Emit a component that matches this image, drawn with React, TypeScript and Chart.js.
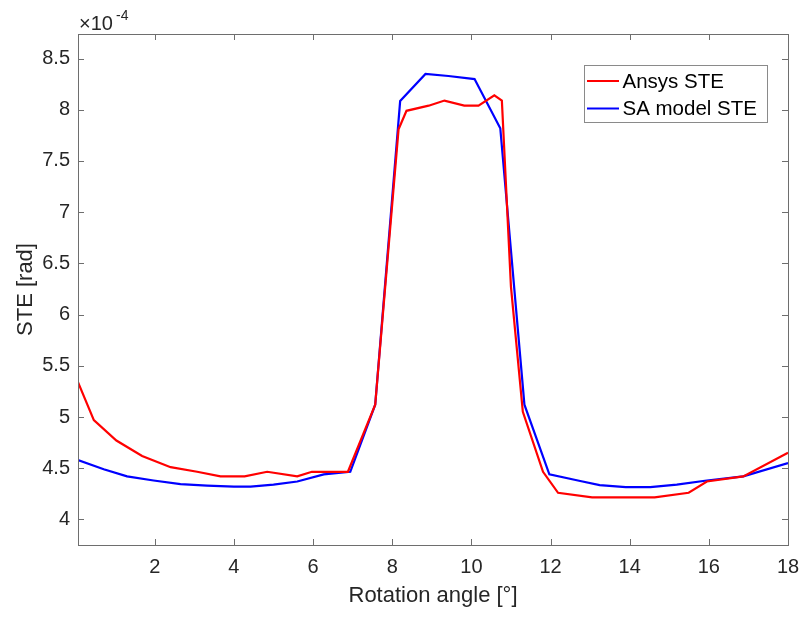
import React, { useEffect, useRef } from "react";
import { Chart, registerables } from "chart.js";

Chart.register(...registerables);

// STE values in units of 1e-4 rad
const ansysAngle = [0.06, 0.46, 1.03, 1.68, 2.4, 3.07, 3.66, 4.27, 4.84, 5.6, 5.97, 6.88, 7.57, 8.16, 8.36, 8.92, 9.32, 9.82, 10.18, 10.58, 10.77, 11.0, 11.3, 11.81, 12.19, 13.05, 14.63, 15.49, 15.95, 16.87, 18.0];
const ansysSTE = [5.34, 4.97, 4.77, 4.62, 4.51, 4.465, 4.42, 4.42, 4.465, 4.42, 4.465, 4.465, 5.12, 7.81, 7.99, 8.04, 8.09, 8.04, 8.04, 8.14, 8.09, 6.27, 5.05, 4.465, 4.26, 4.215, 4.215, 4.26, 4.37, 4.42, 4.65];

const saAngle = [0.06, 0.71, 1.3, 1.97, 2.65, 3.32, 4.0, 4.42, 5.0, 5.6, 6.27, 6.94, 7.57, 8.2, 8.84, 9.42, 10.08, 10.73, 11.34, 11.97, 12.75, 13.24, 13.9, 14.52, 15.19, 15.95, 16.87, 18.0];
const saSTE = [4.58, 4.49, 4.42, 4.38, 4.345, 4.33, 4.32, 4.32, 4.34, 4.37, 4.44, 4.465, 5.12, 8.085, 8.35, 8.33, 8.3, 7.82, 5.12, 4.44, 4.375, 4.335, 4.315, 4.315, 4.34, 4.38, 4.42, 4.55];

const xTicks = [2, 4, 6, 8, 10, 12, 14, 16, 18];
const yTicks = [4, 4.5, 5, 5.5, 6, 6.5, 7, 7.5, 8, 8.5];

const seriesNames = ["Ansys STE", "SA model STE"];
const seriesColors = ["#ff0000", "#0000ff"];

const FONT = "'Liberation Sans', Arial, Helvetica, sans-serif";
const AXIS_COLOR = "#6e6e6e";
const TEXT_COLOR = "#262626";

const decorPlugin = {
  id: "matlabDecor",
  afterDraw(chart: any) {
    const { ctx, chartArea } = chart;
    const { left, right, top, bottom } = chartArea;
    const xs = chart.scales.x;
    const ys = chart.scales.y;
    ctx.save();
    // box
    ctx.strokeStyle = AXIS_COLOR;
    ctx.lineWidth = 1;
    ctx.strokeRect(Math.round(left) + 0.5, Math.round(top) + 0.5, Math.round(right - left), Math.round(bottom - top));
    // ticks (inward, all sides)
    const tl = 6;
    ctx.beginPath();
    xTicks.forEach((v) => {
      const px = Math.round(xs.getPixelForValue(v)) + 0.5;
      ctx.moveTo(px, bottom);
      ctx.lineTo(px, bottom - tl);
      ctx.moveTo(px, top);
      ctx.lineTo(px, top + tl);
    });
    yTicks.forEach((v) => {
      const py = Math.round(ys.getPixelForValue(v)) + 0.5;
      ctx.moveTo(left, py);
      ctx.lineTo(left + tl, py);
      ctx.moveTo(right, py);
      ctx.lineTo(right - tl, py);
    });
    ctx.stroke();

    // exponent label
    ctx.fillStyle = TEXT_COLOR;
    ctx.textAlign = "left";
    ctx.textBaseline = "alphabetic";
    ctx.font = `20px ${FONT}`;
    ctx.fillText("\u00d710", 79, 29.5);
    ctx.font = `14px ${FONT}`;
    ctx.fillText("-4", 116, 19.5);

    // axis titles
    ctx.font = `22px ${FONT}`;
    ctx.textAlign = "center";
    ctx.textBaseline = "middle";
    ctx.fillText("Rotation angle [\u00b0]", (left + right) / 2, 596);
    ctx.save();
    ctx.translate(26, (top + bottom) / 2);
    ctx.rotate(-Math.PI / 2);
    ctx.fillText("STE [rad]", 0, 0);
    ctx.restore();

    // legend
    const lx = 584, ly = 65, lw = 183, lh = 57;
    ctx.fillStyle = "#ffffff";
    ctx.fillRect(lx, ly, lw, lh);
    ctx.strokeStyle = "#8a8a8a";
    ctx.lineWidth = 1;
    ctx.strokeRect(lx + 0.5, ly + 0.5, lw, lh);
    const rows = [81, 108.5];
    ctx.font = `20.5px ${FONT}`;
    ctx.textAlign = "left";
    ctx.textBaseline = "middle";
    seriesNames.forEach((name, i) => {
      ctx.strokeStyle = seriesColors[i];
      ctx.lineWidth = 2;
      ctx.beginPath();
      ctx.moveTo(587, rows[i]);
      ctx.lineTo(619, rows[i]);
      ctx.stroke();
      ctx.fillStyle = "#000000";
      ctx.fillText(name, 622.5, rows[i] + 1);
    });
    ctx.restore();
  },
};

export default function App() {
  const ref = useRef<HTMLCanvasElement | null>(null);
  useEffect(() => {
    document.body.style.margin = "0";
    const canvas = ref.current;
    if (!canvas) return;
    const chart = new Chart(canvas, {
      type: "line",
      data: {
        datasets: [
          {
            label: seriesNames[0],
            data: ansysAngle.map((x, i) => ({ x, y: ansysSTE[i] })),
            borderColor: seriesColors[0],
            backgroundColor: seriesColors[0],
            borderWidth: 2.2,
            pointRadius: 0,
            tension: 0,
          },
          {
            label: seriesNames[1],
            data: saAngle.map((x, i) => ({ x, y: saSTE[i] })),
            borderColor: seriesColors[1],
            backgroundColor: seriesColors[1],
            borderWidth: 2.2,
            pointRadius: 0,
            tension: 0,
          },
        ],
      },
      options: {
        responsive: false,
        animation: false,
        devicePixelRatio: 1,
        layout: { padding: { top: 34, right: 13, left: 0, bottom: 0 } },
        plugins: {
          legend: { display: false },
          tooltip: { enabled: false },
        },
        scales: {
          x: {
            type: "linear",
            min: 0.06,
            max: 18,
            grid: { display: false, drawTicks: false },
            border: { display: false },
            afterBuildTicks: (s: any) => {
              s.ticks = xTicks.map((v) => ({ value: v }));
            },
            afterFit: (s: any) => {
              s.height = 72;
              s.paddingRight = 0;
              s.paddingLeft = 0;
            },
            ticks: {
              autoSkip: false,
              maxRotation: 0,
              padding: 10,
              color: TEXT_COLOR,
              font: { family: FONT, size: 20 },
              callback: (v: any) => String(v),
            },
          },
          y: {
            type: "linear",
            min: 3.75,
            max: 8.74,
            grid: { display: false, drawTicks: false },
            border: { display: false },
            afterBuildTicks: (s: any) => {
              s.ticks = yTicks.map((v) => ({ value: v }));
            },
            afterFit: (s: any) => {
              s.width = 78;
              s.paddingTop = 0;
              s.paddingBottom = 0;
            },
            ticks: {
              autoSkip: false,
              padding: 8,
              color: TEXT_COLOR,
              font: { family: FONT, size: 20 },
              callback: (v: any) => String(v),
            },
          },
        },
      },
      plugins: [decorPlugin],
    });
    return () => chart.destroy();
  }, []);
  return (
    <div style={{ position: "relative", width: 801, height: 617, background: "#fff" }}>
      <canvas ref={ref} width={801} height={617} style={{ display: "block" }} />
    </div>
  );
}
